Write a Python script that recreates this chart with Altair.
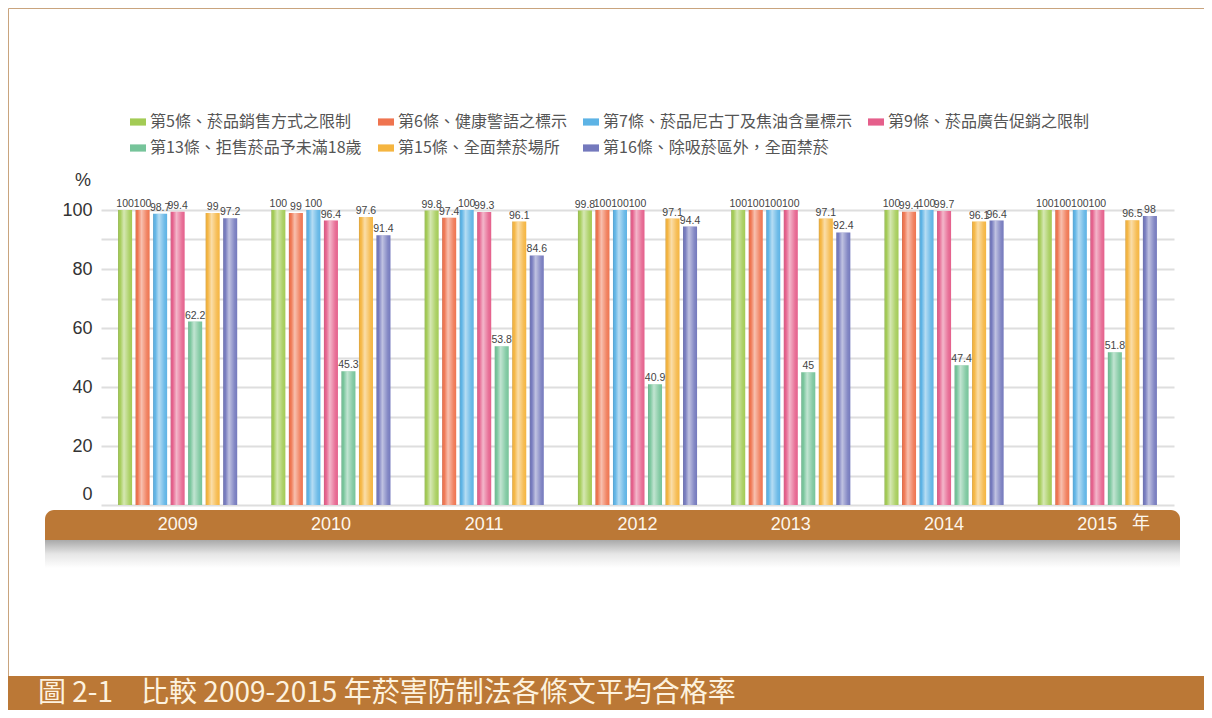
import altair as alt
import pandas as pd

years = ['2009', '2010', '2011', '2012', '2013', '2014', '2015']
series = [
    '第5條、菸品銷售方式之限制',
    '第6條、健康警語之標示',
    '第7條、菸品尼古丁及焦油含量標示',
    '第9條、菸品廣告促銷之限制',
    '第13條、拒售菸品予未滿18歲',
    '第15條、全面禁菸場所',
    '第16條、除吸菸區外，全面禁菸',
]
s5 = [100, 100, 99.8, 99.8, 100, 100, 100]
s6 = [100, 99, 97.4, 100, 100, 99.4, 100]
s7 = [98.7, 100, 100, 100, 100, 100, 100]
s9 = [99.4, 96.4, 99.3, 100, 100, 99.7, 100]
s13 = [62.2, 45.3, 53.8, 40.9, 45, 47.4, 51.8]
s15 = [99, 97.6, 96.1, 97.1, 97.1, 96.1, 96.5]
s16 = [97.2, 91.4, 84.6, 94.4, 92.4, 96.4, 98]
colors = ['#a3cb55', '#ef744f', '#5db3e5', '#e55f8b', '#76c49a', '#f5b540', '#7479bd']

y_ticks = [0, 10, 20, 30, 40, 50, 60, 70, 80, 90, 100]
title_text = '圖 2-1　比較 2009-2015 年菸害防制法各條文平均合格率'

all_vals = [s5, s6, s7, s9, s13, s15, s16]
rows = []
for name, vals in zip(series, all_vals):
    for yr, v in zip(years, vals):
        rows.append({'year': yr, 'series': name, 'value': v})
df = pd.DataFrame(rows)
one = pd.DataFrame({'a': [0]})

FONT = 'Liberation Sans'
CJK = 'Noto Sans CJK TC'

x_enc = alt.X('year:N', sort=years,
              scale=alt.Scale(paddingInner=0.2, paddingOuter=0.1),
              axis=alt.Axis(title=None, domain=False, ticks=False, labelAngle=0,
                            labelColor='#fdf6ec', labelFontSize=18, labelFont=FONT,
                            labelBaseline='middle', labelPadding=19, zindex=1, grid=False))
xo_enc = alt.XOffset('series:N', sort=series,
                     scale=alt.Scale(domain=series, paddingInner=0.2, paddingOuter=0.1))
y_enc = alt.Y('value:Q', scale=alt.Scale(domain=[0, 100], nice=False),
              axis=alt.Axis(title=None, values=y_ticks,
                            labelExpr="datum.value % 20 == 0 ? datum.label : ''",
                            labelOffset={'condition': {'test': 'datum.value == 0', 'value': -11}, 'value': 0},
                            grid=True, gridColor='#dedede', gridWidth=2,
                            domain=False, ticks=False, labelFontSize=18,
                            labelColor='#333333', labelFont=FONT, labelPadding=9))

# decorations
frame = alt.Chart(one).mark_rect(fill='#ffffff', fillOpacity=0, stroke='#c9a47e', strokeWidth=1).encode(
    x=alt.value(-92.5), x2=alt.value(1300), y=alt.value(-201.5), y2=alt.value(470))
band = alt.Chart(one).mark_rect(color='#bb7836', cornerRadiusTopLeft=9, cornerRadiusTopRight=9).encode(
    x=alt.value(-56), x2=alt.value(1079), y=alt.value(300), y2=alt.value(330))
shadow = alt.Chart(one).mark_rect(
    color=alt.Gradient(gradient='linear',
                       stops=[alt.GradientStop(color='#a9a9a9', offset=0),
                              alt.GradientStop(color='#e6e6e6', offset=0.5),
                              alt.GradientStop(color='#ffffff', offset=1)],
                       x1=0, x2=0, y1=0, y2=1)).encode(
    x=alt.value(-56), x2=alt.value(1079), y=alt.value(330), y2=alt.value(358))
nian = alt.Chart(one).mark_text(text='年', color='#fdf6ec', fontSize=18, font=CJK,
                                baseline='middle', align='center').encode(
    x=alt.value(1040), y=alt.value(314))
pct = alt.Chart(one).mark_text(text='%', color='#333333', fontSize=18, font=FONT,
                               baseline='middle', align='center').encode(
    x=alt.value(-18), y=alt.value(-29))
title_band = alt.Chart(one).mark_rect(color='#bb7836', cornerRadiusBottomLeft=10).encode(
    x=alt.value(-93), x2=alt.value(1300), y=alt.value(466), y2=alt.value(520))
title = alt.Chart(one).mark_text(text=title_text, color='#fdf2df', fontSize=28, font=CJK,
                                 baseline='middle', align='left').encode(
    x=alt.value(-63), y=alt.value(484))

bars = alt.Chart(df).mark_bar().encode(
    x=x_enc, xOffset=xo_enc, y=y_enc,
    color=alt.Color('series:N', sort=series,
                    scale=alt.Scale(domain=series, range=colors),
                    legend=alt.Legend(orient='none', legendX=29, legendY=-96,
                                      direction='horizontal', columns=4, title=None,
                                      symbolType='M-1,-0.45H1V0.45H-1Z', symbolSize=256,
                                      symbolStrokeWidth=0, labelFontSize=16,
                                      labelFont=CJK, labelColor='#555555',
                                      columnPadding=16, rowPadding=10, gridAlign='each',
                                      labelLimit=400, symbolOpacity=1)))

gloss = alt.Chart(df).mark_bar(
    color=alt.Gradient(gradient='linear',
                       stops=[alt.GradientStop(color='rgba(0,0,0,0.14)', offset=0),
                              alt.GradientStop(color='rgba(255,255,255,0)', offset=0.14),
                              alt.GradientStop(color='rgba(255,255,255,0.55)', offset=0.42),
                              alt.GradientStop(color='rgba(255,255,255,0.12)', offset=0.8),
                              alt.GradientStop(color='rgba(255,255,255,0)', offset=1)],
                       x1=0, x2=1, y1=0, y2=0)).encode(
    x=x_enc, xOffset=xo_enc, y=y_enc)

labels = alt.Chart(df).mark_text(fontSize=10.5, font=FONT, color='#444444',
                                 baseline='bottom', dy=-1).encode(
    x=x_enc, xOffset=xo_enc, y=y_enc, text=alt.Text('value:Q', format='~g'))

chart = alt.layer(frame, band, shadow, title_band, title, nian, pct, bars, gloss, labels).properties(
    width=1073, height=295,
    autosize=alt.AutoSizeParams(type='none'),
    padding={'left': 93, 'top': 202, 'right': 30, 'bottom': 205},
    background='#ffffff',
).configure_view(stroke=None)

chart.save('out.html', embed_options={'renderer': 'svg', 'actions': False})
